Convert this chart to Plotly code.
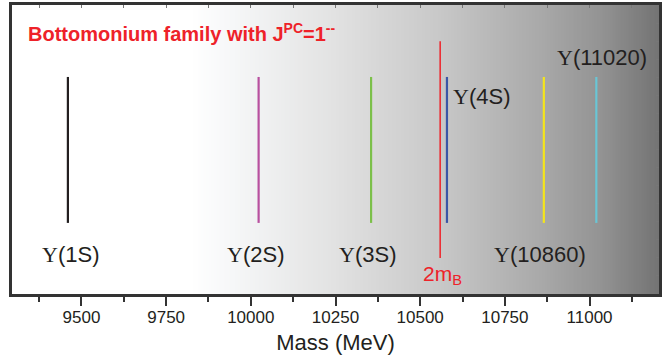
import plotly.graph_objects as go
import numpy as np

# ---- data ----
states = ["Υ(1S)", "Υ(2S)", "Υ(3S)", "Υ(4S)", "Υ(10860)", "Υ(11020)"]
masses = [9460, 10023, 10355, 10579, 10865, 11020]
threshold_label = "2m<sub>B</sub>"
threshold_mass = 10559
tick_vals = [9500, 9750, 10000, 10250, 10500, 10750, 11000]
tick_text = ["9500", "9750", "10000", "10250", "10500", "10750", "11000"]

# ---- style ----
colors = ["#231f20", "#b8509f", "#7cc04a", "#3b56a5", "#f4e51c", "#6ac6d6"]
label_y = [0.135, 0.135, 0.135, 0.685, 0.135, 0.82]
label_anchor = ["center", "center", "center", "left", "center", "center"]
label_dx = [3, -3, -4, 4, -4, 6]
line_y = (0.246, 0.751)
red_y = (0.125, 0.875)
XR = [9295, 11205]
SERIF = "Liberation Serif"
SANS = "Liberation Sans"

fig = go.Figure()

# background gradient
gx = np.linspace(XR[0], XR[1], 400)
gz = [list(np.linspace(0, 1, 400))] * 2
cs = [[0.0, "#ffffff"], [0.275, "#ffffff"], [0.34, "#f6f7f8"], [0.49, "#e3e3e3"],
      [0.66, "#c8c8c8"], [0.82, "#a8a8a8"], [0.91, "#939393"], [1.0, "#737373"]]
fig.add_trace(go.Heatmap(x=gx, y=[0, 1], z=gz, colorscale=cs, showscale=False,
                         hoverinfo="skip", zmin=0, zmax=1))

for m, c in zip(masses, colors):
    fig.add_trace(go.Scatter(x=[m, m], y=list(line_y), mode="lines",
                             line=dict(color=c, width=2.2), showlegend=False, hoverinfo="skip"))
fig.add_trace(go.Scatter(x=[threshold_mass] * 2, y=list(red_y), mode="lines",
                         line=dict(color="#ee2229", width=1.5), showlegend=False, hoverinfo="skip"))
# dummy trace for top axis
fig.add_trace(go.Scatter(x=[masses[0]], y=[0.5], xaxis="x2", mode="markers",
                         marker=dict(opacity=0), showlegend=False, hoverinfo="skip"))

for s, m, yy, anc, dx in zip(states, masses, label_y, label_anchor, label_dx):
    txt = f'<span style="font-family:{SERIF}">{s[0]}</span>{s[1:]}'
    fig.add_annotation(x=m, y=yy, xref="x", yref="paper", text=txt, showarrow=False,
                       xanchor=anc, yanchor="middle", xshift=dx,
                       font=dict(family=SANS, size=22, color="#231f20"))

fig.add_annotation(x=threshold_mass, y=0.065, xref="x", yref="paper", text=threshold_label,
                   showarrow=False, xanchor="center", yanchor="middle", xshift=2,
                   font=dict(family=SANS, size=21, color="#ee2229"))

fig.add_annotation(x=0.021, y=0.905, xref="paper", yref="paper",
                   text="<b>Bottomonium family with J<sup>PC</sup>=1<sup>--</sup></b>",
                   showarrow=False, xanchor="left", yanchor="middle",
                   font=dict(family=SANS, size=20, color="#ee2229"))

fig.update_layout(
    width=665, height=360,
    margin=dict(l=12, r=6, t=5, b=66, autoexpand=False),
    paper_bgcolor="white", plot_bgcolor="white",
    showlegend=False,
    xaxis=dict(range=XR, tickvals=tick_vals, ticktext=tick_text, ticks="outside",
               ticklen=9, tickwidth=1.5, tickcolor="#333", automargin=False,
               ticklabelstandoff=-3,
               minor=dict(ticks="outside", ticklen=5, tickwidth=1.5, tickcolor="#333",
                          tick0=9375, dtick=250),
               showline=True, linewidth=2.5, linecolor="#333", mirror=True,
               showgrid=False, zeroline=False,
               tickfont=dict(family=SANS, size=17, color="#231f20"),
               title=dict(text="Mass (MeV)", font=dict(family=SANS, size=22, color="#231f20"),
                          standoff=9)),
    xaxis2=dict(range=XR, overlaying="x", side="top", ticks="inside", ticklen=3,
                tickwidth=1, tickcolor="#777", tick0=9375, dtick=125, automargin=False,
                showticklabels=False, showgrid=False, zeroline=False, showline=False),
    yaxis=dict(range=[0, 1], side="right", ticks="inside", ticklen=3, tickwidth=1,
               tickcolor="#777", dtick=0.0625, showticklabels=False, automargin=False,
               showline=True, linewidth=2.5, linecolor="#333", mirror=True,
               showgrid=False, zeroline=False),
)

fig.write_html("out.html", config={"displayModeBar": False},
               post_script="document.body.style.margin='0px';")
